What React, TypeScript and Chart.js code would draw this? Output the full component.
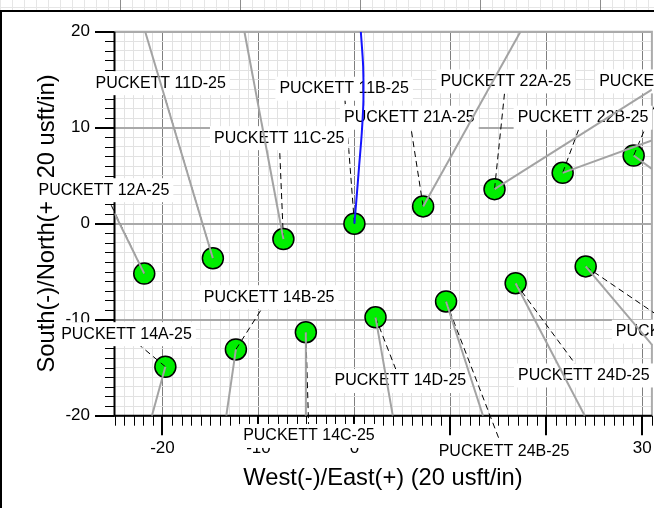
import React, { useEffect, useRef } from 'react';
import { Chart, registerables } from 'chart.js';

Chart.register(...registerables);

const W = 654;
const H = 508;

// Axis ranges and tick labels
const xMin = -25;
const xMax = 31;
const yMin = -20;
const yMax = 20;
const xTickValues = [-20, -10, 0, 10, 20, 30];
const yTickValues = [-20, -10, 0, 10, 20];
const xTitle = 'West(-)/East(+) (20 usft/in)';
const yTitle = 'South(-)/North(+) (20 usft/in)';

// Wells
const wellNames = [
  'PUCKETT 11D-25', 'PUCKETT 11C-25', 'PUCKETT 11B-25', 'PUCKETT 12A-25',
  'PUCKETT 21A-25', 'PUCKETT 22A-25', 'PUCKETT 22B-25', 'PUCKETT 22C-25',
  'PUCKETT 14A-25', 'PUCKETT 14B-25', 'PUCKETT 14C-25', 'PUCKETT 14D-25',
  'PUCKETT 24B-25', 'PUCKETT 24D-25', 'PUCKETT 24C-25',
];
const surfaceX = [-14.75, -7.4, 0, -21.9, 7.16, 14.6, 21.7, 29.1, -19.7, -12.35, -5.06, 2.2, 9.55, 16.8, 24.1];
const surfaceY = [-3.6, -1.6, 0, -5.2, 1.8, 3.6, 5.3, 7.1, -14.9, -13.1, -11.3, -9.75, -8.1, -6.2, -4.45];
// Gray well-path end points (null: path drawn in blue below)
const pathEndX = [-21.8, -11.46, null, -25, 17.3, 31, 31, 31, -21.1, -13.35, -5.06, 4.0, 13.4, 24.0, 31];
const pathEndY = [20, 20, null, 1.1, 20, 13.97, 8.67, 5.71, -20, -20, -20, -20, -20, -20, -12.6];
// Label anchor positions
const labelX = [-20.19, -7.84, -1.07, -26.1, 5.73, 15.77, 23.82, 32.36, -23.75, -8.89, -4.74, 4.79, 15.59, 23.9, 34.1];
const labelY = [14.64, 8.91, 14.06, 3.49, 11.04, 14.82, 11.04, 14.82, -11.51, -7.66, -22.11, -16.39, -23.77, -15.81, -11.25];
// Blue path (PUCKETT 11B-25)
const bluePathX = [0, 0.21, 0.49, 0.77, 0.94, 0.91, 0.67];
const bluePathY = [0, 2.5, 6.0, 9.5, 12.9, 16.4, 20];

const FONT = "'Liberation Sans', Arial, sans-serif";

const framePlugin = {
  id: 'frameDecor',
  beforeDraw(chart: any) {
    const ctx = chart.ctx;
    ctx.save();
    ctx.fillStyle = '#ffffff';
    ctx.fillRect(0, 0, W, H);
    // background grid strip above the frame
    ctx.strokeStyle = '#e6e6e6';
    ctx.lineWidth = 1;
    ctx.beginPath();
    for (let gx = 0; gx <= W; gx += 12) {
      ctx.moveTo(gx + 0.5, 0);
      ctx.lineTo(gx + 0.5, 11);
    }
    ctx.moveTo(0, 7.5);
    ctx.lineTo(W, 7.5);
    ctx.stroke();
    ctx.strokeStyle = '#8c8c8c';
    ctx.beginPath();
    for (let gx = 120; gx < W; gx += 120) {
      ctx.moveTo(gx + 0.5, 0);
      ctx.lineTo(gx + 0.5, 11);
    }
    ctx.stroke();
    // frame
    ctx.strokeStyle = '#000000';
    ctx.lineWidth = 2;
    ctx.beginPath();
    ctx.moveTo(1, H);
    ctx.lineTo(1, 11);
    ctx.lineTo(W, 11);
    ctx.stroke();
    ctx.restore();
  },
};

const axesPlugin = {
  id: 'axesDecor',
  beforeDatasetsDraw(chart: any) {
    const { ctx, chartArea: a, scales } = chart;
    const xs = scales.x;
    const ys = scales.y;
    ctx.save();
    // plot border (top / right)
    ctx.strokeStyle = '#ababab';
    ctx.lineWidth = 2;
    ctx.beginPath();
    ctx.moveTo(a.left, a.top);
    ctx.lineTo(a.right, a.top);
    ctx.lineTo(a.right, a.bottom);
    ctx.stroke();
    // axis lines
    ctx.strokeStyle = '#000000';
    ctx.beginPath();
    ctx.moveTo(a.left, a.top);
    ctx.lineTo(a.left, a.bottom);
    ctx.lineTo(a.right, a.bottom);
    ctx.stroke();
    // tick marks
    ys.ticks.forEach((t: any) => {
      const p = ys.getPixelForValue(t.value);
      const major = t.value % 10 === 0;
      ctx.lineWidth = major ? 2 : 1;
      ctx.beginPath();
      ctx.moveTo(a.left - (major ? 19.5 : 9.5), Math.round(p) + (major ? 0 : 0.5));
      ctx.lineTo(a.left, Math.round(p) + (major ? 0 : 0.5));
      ctx.stroke();
    });
    xs.ticks.forEach((t: any) => {
      const p = xs.getPixelForValue(t.value);
      const major = t.value % 10 === 0;
      ctx.lineWidth = major ? 2 : 1;
      ctx.beginPath();
      ctx.moveTo(Math.round(p) + (major ? 0 : 0.5), a.bottom);
      ctx.lineTo(Math.round(p) + (major ? 0 : 0.5), a.bottom + (major ? 19.5 : 10));
      ctx.stroke();
    });
    // tick labels
    ctx.fillStyle = '#000000';
    ctx.font = `17px ${FONT}`;
    ctx.textBaseline = 'middle';
    ctx.textAlign = 'right';
    yTickValues.forEach((v) => {
      ctx.fillText(String(v), a.left - 24.5, ys.getPixelForValue(v));
    });
    ctx.textAlign = 'center';
    xTickValues.forEach((v) => {
      ctx.fillText(String(v), xs.getPixelForValue(v), 448.7);
    });
    // axis titles
    ctx.font = `23.7px ${FONT}`;
    ctx.textAlign = 'center';
    ctx.fillText(xTitle, 383, 478);
    ctx.translate(47.3, 223.4);
    ctx.rotate(-Math.PI / 2);
    ctx.fillText(yTitle, 0, 0);
    ctx.restore();
  },
};

const labelsPlugin = {
  id: 'wellLabels',
  afterDatasetDraw(chart: any, args: any) {
    if (args.index !== 0) return;
    const { ctx, scales } = chart;
    const xs = scales.x;
    const ys = scales.y;
    ctx.save();
    // leader lines
    ctx.strokeStyle = '#000000';
    ctx.lineWidth = 1;
    ctx.setLineDash([6, 4]);
    wellNames.forEach((_, i) => {
      ctx.beginPath();
      ctx.moveTo(xs.getPixelForValue(surfaceX[i]), ys.getPixelForValue(surfaceY[i]));
      ctx.lineTo(xs.getPixelForValue(labelX[i]), ys.getPixelForValue(labelY[i]));
      ctx.stroke();
    });
    ctx.setLineDash([]);
    // label boxes
    ctx.font = `16px ${FONT}`;
    ctx.textAlign = 'center';
    ctx.textBaseline = 'middle';
    wellNames.forEach((name, i) => {
      const cx = xs.getPixelForValue(labelX[i]);
      const cy = ys.getPixelForValue(labelY[i]);
      const w = ctx.measureText(name).width + 8;
      const h = 24;
      ctx.fillStyle = '#ffffff';
      ctx.fillRect(cx - w / 2, cy - h / 2, w, h);
      ctx.fillStyle = '#000000';
      ctx.fillText(name, cx, cy);
    });
    ctx.restore();
  },
};

export default function App() {
  const ref = useRef<HTMLCanvasElement | null>(null);

  useEffect(() => {
    const canvas = ref.current;
    if (!canvas) return;

    const circleDataset: any = {
      type: 'scatter',
      label: 'Wells',
      data: surfaceX.map((x, i) => ({ x, y: surfaceY[i] })),
      pointRadius: 10.5,
      pointBackgroundColor: '#00ee00',
      pointBorderColor: '#000000',
      pointBorderWidth: 1.5,
      showLine: false,
      order: 1,
      clip: false,
    };

    const pathDatasets: any[] = [];
    wellNames.forEach((name, i) => {
      if (pathEndX[i] === null) return;
      pathDatasets.push({
        type: 'scatter',
        label: name,
        data: [
          { x: surfaceX[i], y: surfaceY[i] },
          { x: pathEndX[i], y: pathEndY[i] },
        ],
        showLine: true,
        borderColor: '#a3a3a3',
        borderWidth: 2,
        pointRadius: 0,
        order: 0,
      });
    });

    const blueDataset: any = {
      type: 'scatter',
      label: 'PUCKETT 11B-25 path',
      data: bluePathX.map((x, i) => ({ x, y: bluePathY[i] })),
      showLine: true,
      borderColor: '#1414ff',
      borderWidth: 2,
      pointRadius: 0,
      tension: 0.3,
      order: 0,
    };

    const gridColor = (major: string, minor: string) => (c: any) =>
      c.tick && c.tick.value % 10 === 0 ? major : minor;

    const chart = new Chart(canvas, {
      type: 'scatter',
      data: { datasets: [circleDataset, ...pathDatasets, blueDataset] },
      options: {
        animation: false,
        responsive: false,
        events: [],
        layout: { autoPadding: false, padding: { top: 31.7, right: 2.1, left: 0, bottom: 0 } },
        plugins: { legend: { display: false }, tooltip: { enabled: false } },
        scales: {
          x: {
            type: 'linear',
            min: xMin,
            max: xMax,
            ticks: { stepSize: 1, display: false, autoSkip: false },
            grid: {
              drawTicks: false,
              color: gridColor('#7f7f7f', '#e2e2e2'),
              lineWidth: 1,
            },
            border: { display: false },
            afterFit: (s: any) => { s.height = 92.3; },
          },
          y: {
            type: 'linear',
            min: yMin,
            max: yMax,
            ticks: { stepSize: 1, display: false, autoSkip: false },
            grid: {
              drawTicks: false,
              color: gridColor('#a9a9a9', '#e2e2e2'),
              lineWidth: (c: any) => (c.tick && c.tick.value % 10 === 0 ? 2 : 1),
            },
            border: { display: false },
            afterFit: (s: any) => { s.width = 114.5; },
          },
        },
      } as any,
      plugins: [framePlugin, axesPlugin, labelsPlugin],
    });

    return () => chart.destroy();
  }, []);

  return (
    <div style={{ position: 'absolute', left: 0, top: 0, width: W, height: H, overflow: 'hidden' }}>
      <canvas ref={ref} width={W} height={H} style={{ display: 'block', width: W, height: H }} />
    </div>
  );
}
